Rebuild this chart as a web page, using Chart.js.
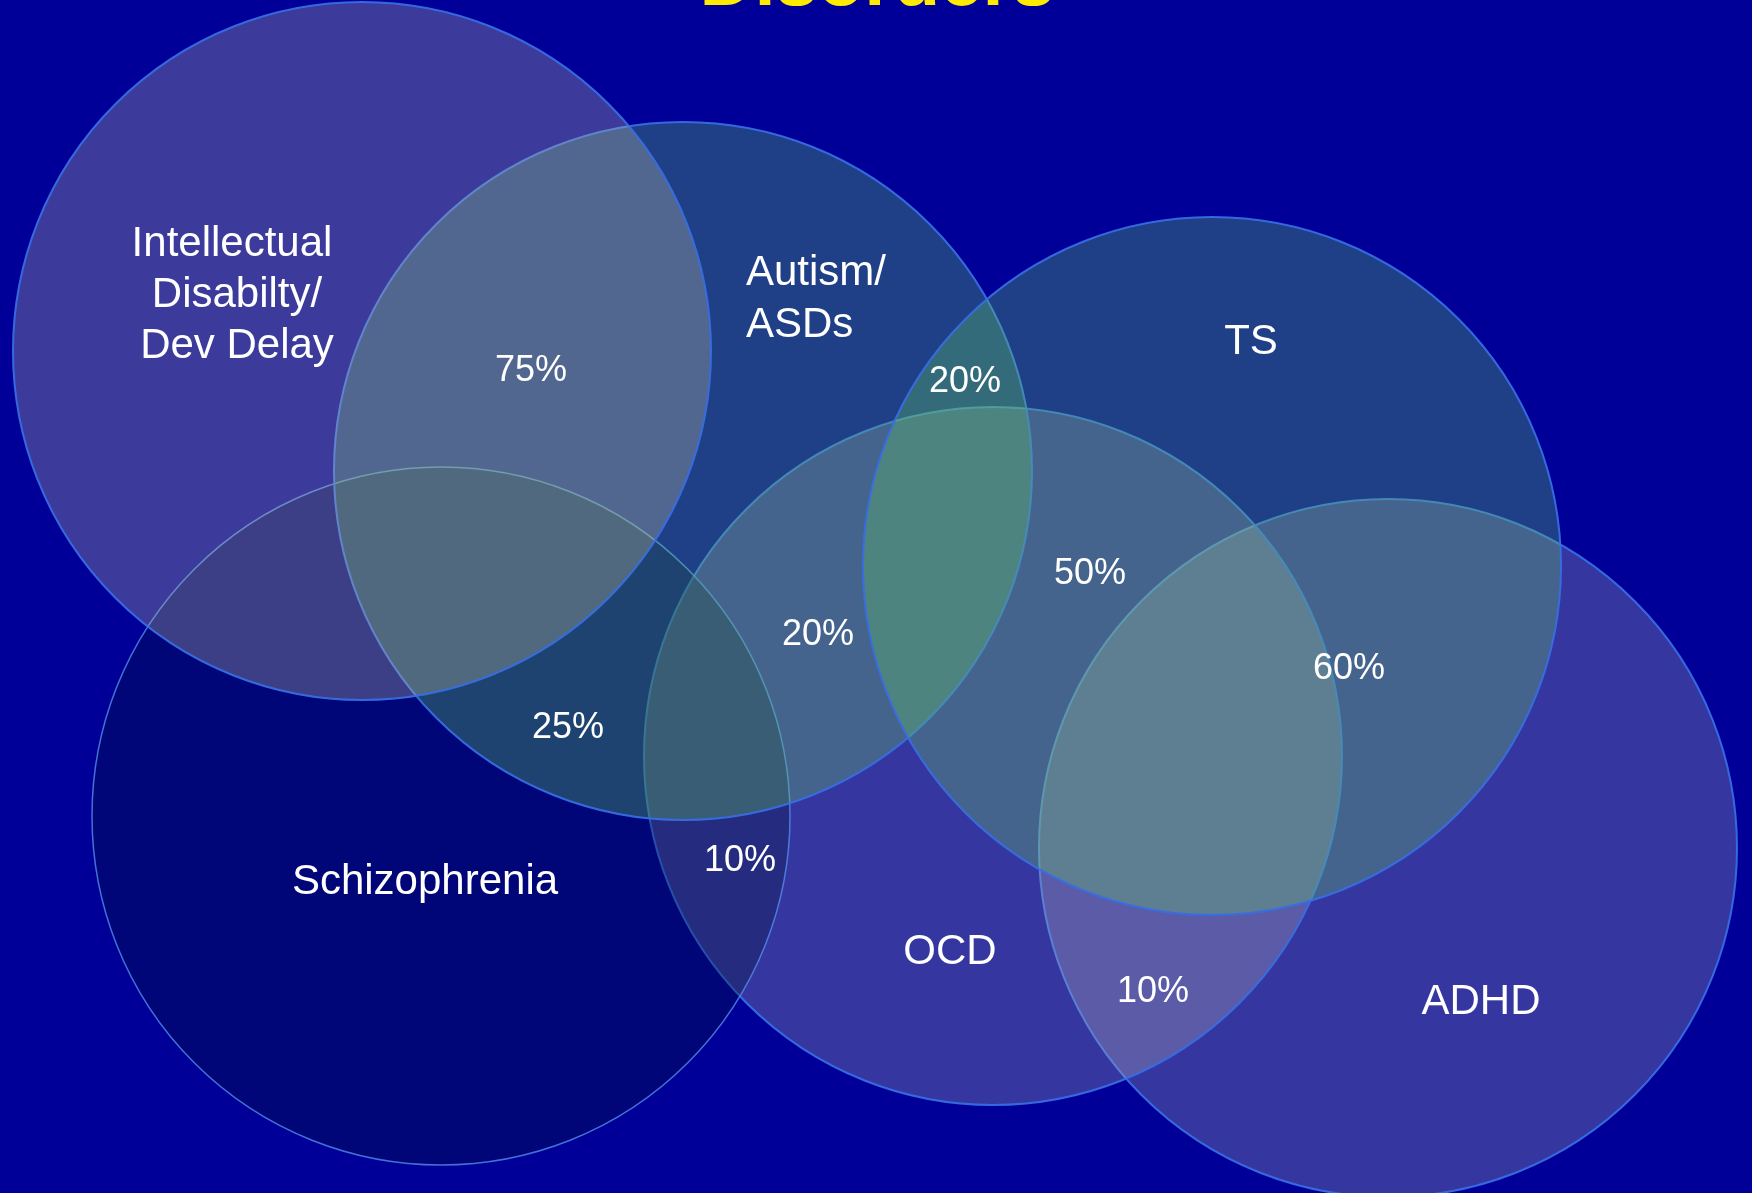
<!DOCTYPE html>
<html>
<head>
<meta charset="utf-8">
<title>Disorders</title>
<script src="https://cdn.jsdelivr.net/npm/chart.js@4.4.1/dist/chart.umd.min.js"></script>
<style>
  html, body { margin: 0; padding: 0; background: #000099; overflow: hidden; }
  #venn { display: block; }
</style>
</head>
<body>
<canvas id="venn" width="1752" height="1193"></canvas>
<script>
// circles, bottom layer first
const groups = ["ADHD", "OCD", "Schizophrenia", "Autism/ASDs", "TS", "Intellectual Disability"];
const centerX = [1388, 993, 441, 683, 1212, 362];
const centerY = [848, 756, 816, 471, 566, 351];
const radius = [349, 349, 349, 349, 349, 349];

// names written inside each circle (one entry per line)
const nameText = ["Intellectual", "Disabilty/", "Dev Delay", "Autism/", "ASDs", "TS", "Schizophrenia", "OCD", "ADHD"];
const nameX = [232, 237, 237, 746, 746, 1251, 425, 950, 1481];
const nameY = [256, 307, 358, 285, 337, 354, 894, 964, 1014];
const nameAlign = ["center", "center", "center", "left", "left", "center", "center", "center", "center"];

// overlap percentages
const overlapText = ["75%", "20%", "20%", "50%", "60%", "25%", "10%", "10%"];
const overlapX = [531, 965, 818, 1090, 1349, 568, 740, 1153];
const overlapY = [381, 392, 645, 584, 679, 738, 871, 1002];

// fills per circle (same order as groups)
const fills = [
  "rgba(180,180,183,0.3)",
  "rgba(180,180,183,0.3)",
  "rgba(0,20,47,0.3)",
  "rgba(103,207,93,0.3)",
  "rgba(103,207,93,0.3)",
  "rgba(200,197,163,0.3)"
];
const borders = [
  "rgba(55,110,228,0.95)",
  "rgba(55,110,228,0.95)",
  "rgba(85,140,235,0.8)",
  "rgba(55,110,228,0.95)",
  "rgba(55,110,228,0.95)",
  "rgba(55,110,228,0.95)"
];
const borderWidths = [2, 2, 1.5, 2, 2, 2];

const FONT = '"Liberation Sans", Arial, Helvetica, sans-serif';

// writes the title and all labels on top of the circles
const vennLabels = {
  id: "vennLabels",
  afterDatasetsDraw(chart) {
    const ctx = chart.ctx;
    const x = chart.scales.x;
    const y = chart.scales.y;
    ctx.save();
    ctx.textBaseline = "alphabetic";

    // title, mostly above the top edge
    ctx.fillStyle = "#ffeb00";
    ctx.textAlign = "center";
    ctx.font = "bold 76px " + FONT;
    ctx.fillText("Disorders", x.getPixelForValue(877), y.getPixelForValue(5));

    ctx.fillStyle = "#ffffff";
    ctx.font = "42px " + FONT;
    nameText.forEach((t, i) => {
      ctx.textAlign = nameAlign[i];
      ctx.fillText(t, x.getPixelForValue(nameX[i]), y.getPixelForValue(nameY[i]));
    });

    ctx.font = "36px " + FONT;
    ctx.textAlign = "center";
    overlapText.forEach((t, i) => {
      ctx.fillText(t, x.getPixelForValue(overlapX[i]), y.getPixelForValue(overlapY[i]));
    });
    ctx.restore();
  }
};

new Chart(document.getElementById("venn"), {
  type: "bubble",
  data: {
    datasets: [
      {
        label: "Disorders",
        data: groups.map((g, i) => ({ x: centerX[i], y: centerY[i], r: radius[i] })),
        backgroundColor: fills,
        borderColor: borders,
        borderWidth: borderWidths,
        hoverRadius: 0,
        clip: false
      }
    ]
  },
  options: {
    responsive: false,
    animation: false,
    events: [],
    layout: { padding: 0, autoPadding: false },
    plugins: {
      legend: { display: false },
      tooltip: { enabled: false },
      title: { display: false }
    },
    scales: {
      x: { type: "linear", min: 0, max: 1752, display: false },
      y: { type: "linear", min: 0, max: 1193, reverse: true, display: false }
    }
  },
  plugins: [vennLabels]
});
</script>
</body>
</html>
